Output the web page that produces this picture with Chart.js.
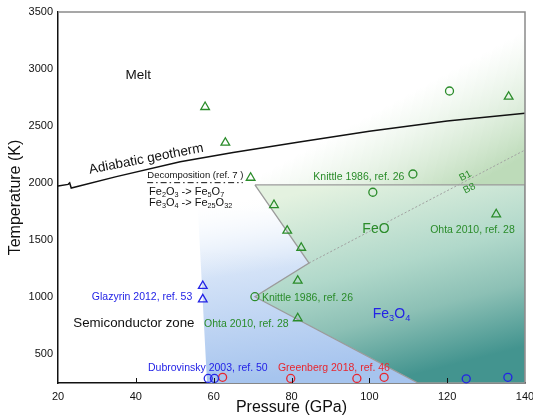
<!DOCTYPE html>
<html>
<head>
<meta charset="utf-8">
<script src="https://cdn.jsdelivr.net/npm/chart.js@4.4.1/dist/chart.umd.min.js"></script>
<style>
  html, body { margin: 0; padding: 0; background: #fff; }
  #wrap { width: 533px; height: 419px; position: relative; }
</style>
</head>
<body>
<div id="wrap"><canvas id="phase"></canvas></div>
<script>
// ---- axes (pressure in GPa, temperature in K) ----
const xTicks = [20, 40, 60, 80, 100, 120, 140];
const yTicks = [500, 1000, 1500, 2000, 2500, 3000, 3500];

// adiabatic geotherm (with the small break near 23 GPa)
const geothermP = [20, 22.6, 23.0, 23.4, 35, 51.4, 65, 82, 100, 120, 140];
const geothermT = [1975, 1990, 2003, 1958, 2058, 2189, 2270, 2362, 2455, 2545, 2613];

// decomposition boundary (dash-dot)
const decompP = [42.9, 67.5];
const decompT = [2005, 2005];

// phase regions (closed outlines)
const meltP = [66, 140, 140, 66];
const meltT = [1985, 3500, 1985, 1985];
const fe3o4P = [58.3, 56.0, 56.0, 70.6, 84.5, 70.6, 112.5, 58.3];
const fe3o4T = [250, 1740, 1985, 1985, 1301, 1006, 250, 250];
const feoP = [70.6, 140, 140, 112.5, 70.6, 84.5, 70.6];
const feoT = [1985, 1985, 250, 250, 1006, 1301, 1985];

// B1 / B8 boundary (dotted)
const b1b8P = [84.5, 140];
const b1b8T = [1301, 2291];

// experiments
const ohtaP = [57.8, 63.0, 69.5, 75.5, 78.9, 82.5, 81.6, 81.6, 132.6, 135.8];
const ohtaT = [2668, 2355, 2048, 1809, 1584, 1435, 1146, 817, 1728, 2758];
const knittleP = [120.6, 111.2, 100.9, 70.6];
const knittleT = [2808, 2081, 1921, 1006];
const glazyrinP = [57.2, 57.2];
const glazyrinT = [1100, 983];
const dubroP = [58.6, 60.2, 124.9, 135.6];
const dubroT = [290, 290, 287, 300];
const greenbergP = [62.3, 79.8, 96.8, 103.8];
const greenbergT = [300, 290, 290, 300];

const GREEN = '#2a8c2a', BLUE = '#2323e6', RED = '#e8262e';

// text annotations, placed in data coordinates
const notes = [
  { text: 'Melt', p: 40.6, t: 2957, size: 13.5, color: '#111' },
  { text: 'Adiabatic geotherm', p: 42.6, t: 2222, size: 13.5, color: '#111', rot: -11 },
  { text: 'Decomposition (ref. 7 )', p: 55.3, t: 2072, size: 9.5, color: '#111' },
  { text: 'Fe_{2}O_{3} -> Fe_{5}O_{7}', p: 43.4, t: 1932, size: 11, color: '#111', align: 'left' },
  { text: 'Fe_{3}O_{4} -> Fe_{25}O_{32}', p: 43.4, t: 1836, size: 11, color: '#111', align: 'left' },
  { text: 'Knittle 1986, ref. 26', p: 97.3, t: 2063, size: 10.5, color: GREEN },
  { text: 'FeO', p: 101.7, t: 1608, size: 14, color: GREEN },
  { text: 'Ohta 2010, ref. 28', p: 126.5, t: 1599, size: 10.5, color: GREEN },
  { text: 'B1', p: 124.6, t: 2070, size: 10, color: GREEN, rot: -28 },
  { text: 'B8', p: 125.6, t: 1960, size: 10, color: GREEN, rot: -28 },
  { text: 'Glazyrin 2012, ref. 53', p: 41.6, t: 1012, size: 10.5, color: BLUE },
  { text: 'Semiconductor zone', p: 39.5, t: 784, size: 13.3, color: '#111' },
  { text: 'Knittle 1986, ref. 26', p: 84.1, t: 1000, size: 10.5, color: GREEN },
  { text: 'Ohta 2010, ref. 28', p: 68.4, t: 776, size: 10.5, color: GREEN },
  { text: 'Fe_{3}O_{4}', p: 105.7, t: 863, size: 14, color: BLUE },
  { text: 'Dubrovinsky 2003, ref. 50', p: 58.5, t: 386, size: 10.5, color: BLUE },
  { text: 'Greenberg 2018, ref. 46', p: 90.9, t: 390, size: 10.5, color: RED }
];

const FONT = "'Liberation Sans', Arial, sans-serif";
Chart.defaults.font.family = FONT;
Chart.defaults.color = '#111';

const pts = (P, T) => P.map((p, i) => ({ x: p, y: T[i] }));

// gradient defined by two data points, resolved through the scales
function scaledGrad(context, from, to, stops) {
  const chart = context.chart;
  const { x, y } = chart.scales;
  if (!chart.chartArea || !x || !y) return stops[stops.length - 1][1];
  const g = chart.ctx.createLinearGradient(
    x.getPixelForValue(from[0]), y.getPixelForValue(from[1]),
    x.getPixelForValue(to[0]), y.getPixelForValue(to[1]));
  stops.forEach(s => g.addColorStop(s[0], s[1]));
  return g;
}

function region(P, T, bg, border, order) {
  return {
    data: pts(P, T), showLine: true, fill: 'shape', order,
    backgroundColor: bg, borderColor: border || 'rgba(0,0,0,0)', borderWidth: border ? 1.3 : 0,
    pointRadius: 0, pointHoverRadius: 0
  };
}

function markers(P, T, color, style, r) {
  return {
    data: pts(P, T), showLine: false, order: 0, clip: false,
    pointStyle: style, pointRadius: r, pointHoverRadius: r,
    pointBorderColor: color, pointBackgroundColor: 'rgba(0,0,0,0)', pointBorderWidth: 1.3
  };
}

function drawRich(ctx, text, x, y, size, align) {
  const parts = text.split(/(_\{[^}]*\})/).filter(Boolean)
    .map(s => s.startsWith('_{') ? { t: s.slice(2, -1), sub: true } : { t: s, sub: false });
  let w = 0;
  parts.forEach(p => {
    ctx.font = `${p.sub ? size * 0.66 : size}px ${FONT}`;
    p.w = ctx.measureText(p.t).width; w += p.w;
  });
  let cx = align === 'left' ? x : x - w / 2;
  ctx.textAlign = 'left';
  ctx.textBaseline = 'alphabetic';
  parts.forEach(p => {
    ctx.font = `${p.sub ? size * 0.66 : size}px ${FONT}`;
    ctx.fillText(p.t, cx, y + size * 0.36 + (p.sub ? size * 0.2 : 0));
    cx += p.w;
  });
}

const notesPlugin = {
  id: 'notes',
  afterDatasetsDraw(chart) {
    const { ctx, scales: { x, y } } = chart;
    notes.forEach(n => {
      ctx.save();
      ctx.fillStyle = n.color;
      ctx.translate(x.getPixelForValue(n.p), y.getPixelForValue(n.t));
      if (n.rot) ctx.rotate(n.rot * Math.PI / 180);
      drawRich(ctx, n.text, 0, 0, n.size, n.align);
      ctx.restore();
    });
  }
};

// gray top/right frame and short inward ticks on the pressure axis
const framePlugin = {
  id: 'frame',
  afterDraw(chart) {
    const { ctx, chartArea: a, scales: { x } } = chart;
    ctx.save();
    ctx.strokeStyle = '#8a8a8a';
    ctx.lineWidth = 1.5;
    ctx.beginPath();
    ctx.moveTo(a.left, a.top); ctx.lineTo(a.right, a.top); ctx.lineTo(a.right, a.bottom);
    ctx.stroke();
    ctx.strokeStyle = '#111';
    ctx.lineWidth = 1;
    xTicks.slice(1, -1).forEach(v => {
      const px = Math.round(x.getPixelForValue(v)) + 0.5;
      ctx.beginPath(); ctx.moveTo(px, a.bottom); ctx.lineTo(px, a.bottom - 5); ctx.stroke();
    });
    ctx.restore();
  }
};

new Chart(document.getElementById('phase'), {
  type: 'scatter',
  data: {
    datasets: [
      region(meltP, meltT, c => scaledGrad(c, [104.0, 2668], [117.6, 1818],
        [[0, 'rgba(210,233,208,0)'], [1, '#bddbb9']]), null, 30),
      region(fe3o4P, fe3o4T, c => scaledGrad(c, [66.8, 250], [60.3, 1809],
        [[0, '#a6c4ee'], [0.6, '#d3e2f7'], [1, 'rgba(240,246,253,0)']]), null, 25),
      region(feoP, feoT, c => scaledGrad(c, [89.9, 1985], [102.8, 250],
        [[0, '#e4f2e0'], [0.45, '#b0d8ca'], [0.7, '#8cc0b5'], [1, '#43948f']]), '#9b9b9b', 20),
      {
        data: pts(b1b8P, b1b8T), showLine: true, order: 10, borderColor: '#a0a0a0',
        borderWidth: 1, borderDash: [2, 2], pointRadius: 0, pointHoverRadius: 0
      },
      {
        data: pts(geothermP, geothermT), showLine: true, order: 5, borderColor: '#111',
        borderWidth: 1.5, pointRadius: 0, pointHoverRadius: 0
      },
      {
        data: pts(decompP, decompT), showLine: true, order: 5, borderColor: '#111',
        borderWidth: 1, borderDash: [6, 3, 1.5, 3], pointRadius: 0, pointHoverRadius: 0
      },
      markers(ohtaP, ohtaT, GREEN, 'triangle', 5),
      markers(knittleP, knittleT, GREEN, 'circle', 4),
      markers(glazyrinP, glazyrinT, BLUE, 'triangle', 5),
      markers(dubroP, dubroT, BLUE, 'circle', 4),
      markers(greenbergP, greenbergT, RED, 'circle', 4)
    ]
  },
  options: {
    responsive: true,
    maintainAspectRatio: false,
    animation: false,
    layout: { padding: { left: 0, right: 8, top: 12, bottom: 0 } },
    plugins: { legend: { display: false }, tooltip: { enabled: false } },
    scales: {
      x: {
        type: 'linear', min: 20, max: 140,
        afterBuildTicks: s => { s.ticks = xTicks.map(v => ({ value: v })); },
        afterFit: s => { s.height = 36; s.paddingLeft = 0; s.paddingRight = 0; },
        grid: { display: false, drawTicks: false },
        border: { display: true, color: '#111', width: 1.5 },
        ticks: { font: { size: 11 }, color: '#111', padding: 7, callback: v => String(v) },
        title: { display: true, text: 'Pressure (GPa)', font: { size: 16 }, color: '#111', padding: { top: 0, bottom: 2 } }
      },
      y: {
        type: 'linear', min: 250, max: 3500,
        afterBuildTicks: s => { s.ticks = yTicks.map(v => ({ value: v })); },
        afterFit: s => { s.width = 58; s.paddingTop = 0; s.paddingBottom = 0; },
        grid: { display: false, drawTicks: false },
        border: { display: true, color: '#111', width: 1.5 },
        ticks: { font: { size: 11 }, color: '#111', padding: 5, callback: v => String(v) },
        title: { display: true, text: 'Temperature (K)', font: { size: 16 }, color: '#111', padding: { top: 6, bottom: 0 } }
      }
    }
  },
  plugins: [notesPlugin, framePlugin]
});
</script>
</body>
</html>
